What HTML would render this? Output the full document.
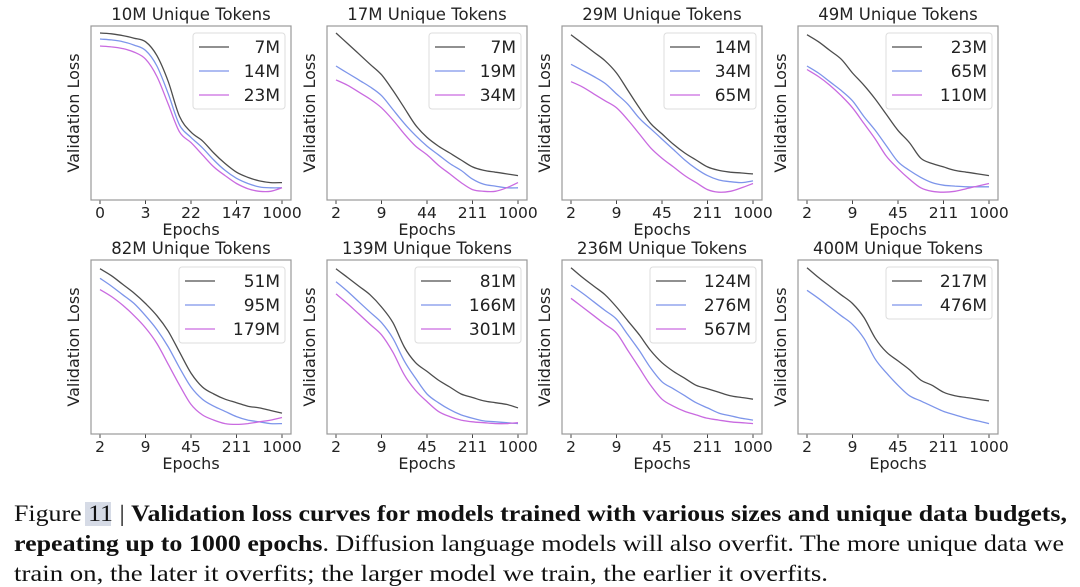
<!DOCTYPE html>
<html><head><meta charset="utf-8"><style>
html,body{margin:0;padding:0;background:#fff;}
svg{display:block;font-family:"DejaVu Sans","Liberation Sans",sans-serif;}
</style></head><body>
<svg id="fig" width="1080" height="587" viewBox="0 0 1080 587">
<g id="charts"></g>
<g font-family="'Liberation Serif',serif" font-size="23" fill="#111">
<rect x="85" y="502" width="26" height="24" fill="#d6dbe6"/>
<text x="14" y="521" textLength="1053" lengthAdjust="spacingAndGlyphs">Figure 11 | <tspan font-weight="bold">Validation loss curves for models trained with various sizes and unique data budgets,</tspan></text>
<text x="14" y="551" textLength="1050" lengthAdjust="spacingAndGlyphs"><tspan font-weight="bold">repeating up to 1000 epochs</tspan>. Diffusion language models will also overfit. The more unique data we</text>
<text x="14" y="581" textLength="814" lengthAdjust="spacingAndGlyphs">train on, the later it overfits; the larger model we train, the earlier it overfits.</text>
</g>
</svg>
<script>
// shared x positions (log-epoch steps 0..16)
const steps = [0,1,2,3,4,5,6,7,8,9,10,11,12,13,14,15,16];
const tickStepsA = [0,4,8,12,16];
const tickLabels1 = ["0","3","22","147","1000"];
const tickLabels2 = ["2","9","44","211","1000"];
const tickLabelsStd = ["2","9","45","211","1000"];
const titles = ["10M Unique Tokens","17M Unique Tokens","29M Unique Tokens","49M Unique Tokens","82M Unique Tokens","139M Unique Tokens","236M Unique Tokens","400M Unique Tokens"];
const legendLabels = [["7M","14M","23M"],["7M","19M","34M"],["14M","34M","65M"],["23M","65M","110M"],["51M","95M","179M"],["81M","166M","301M"],["124M","276M","567M"],["217M","476M"]];
// relative validation loss (0 = axis bottom, 100 = axis top)
const p1s1=[96,95.5,94.5,93,91,83,68,48,39,34,27,21,16,13,11,10,10];
const p1s2=[92.5,92,91,89,86,77,61,43,36,30,23,17,12.5,9.5,7.5,7,7];
const p1s3=[88.5,88,87,85,81,71,55,39,33,26,19,14,9.5,6.5,5,5,7];
const p2s1=[96,90,84,78,72,63,53,43,36,31,27,23,19,17,16,15,14];
const p2s2=[77,73,69,65,60,52,44,37,31,26,21,17,12,9,8,7,7];
const p2s3=[69,66,62,58,53,46,38,31,26,20,15,10,6,5,5,7,10];
const p3s1=[95,90,85,80,73,63,53,44,38,32,27,23,19,17,16,15.5,15];
const p3s2=[78,74.5,71,67,61,55,47,41,35,29,23,18,14,11.5,10.5,10,11];
const p3s3=[68,65,61,57,53,46,38,30,24,19,14,10,6,4.5,5,7,9.5];
const p4s1=[95,91,86,81,73,66,58,49,40,33,24,21,19,17,16,15,14];
const p4s2=[77,73,68,63,57,48,40,31,22,17,13,10,8.5,8,7.6,7.6,7.6];
const p4s3=[75,71,66,60,53,44,35,25,18,12,7,5,4.5,5,6.5,8,9.5];
const p5s1=[95,91,86,81,75,68,59,47,35,27,23,20,18,16,15,13.5,12];
const p5s2=[89.5,85,80,75,68,60,50,38,27,20,16,13,10,8,7,6,6];
const p5s3=[83,79,74,68,61,52,40,28,17,11,8,6,5.5,6,7,8,9.5];
const p6s1=[95,90,85,80,73,64,50,41,36,31,27,23,21,19,18,17,15];
const p6s2=[87.5,82,76,70,64,55,42,32,23,18,14,11,9,7.5,7,6.5,6];
const p6s3=[80.5,75,69,63,57,47,34,25,18.6,13,10,8,7,6.5,6,6,6.5];
const p7s1=[95.6,90,85,80,73,65,57,48,41,36,32,28,26,24,22,21,20];
const p7s2=[85.6,81,76,71,66,57,48,38,30,26,22,18,15,12,10.5,9,8];
const p7s3=[78,73,68,63,58,48,38,28,20,16,13,11,9,8,7,6.5,6];
const p8s1=[95.6,90,85,80,75,67,55,47,42,37,31,28,24,22,21,20,19];
const p8s2=[82.6,78,73,68,63,55,43,35,28,22,19,16,13,11,9,7.5,6];
const panelSeries=[[p1s1,p1s2,p1s3],[p2s1,p2s2,p2s3],[p3s1,p3s2,p3s3],[p4s1,p4s2,p4s3],[p5s1,p5s2,p5s3],[p6s1,p6s2,p6s3],[p7s1,p7s2,p7s3],[p8s1,p8s2]];
const panelTicks=[tickLabels1,tickLabels2,tickLabelsStd,tickLabelsStd,tickLabelsStd,tickLabelsStd,tickLabelsStd,tickLabelsStd];

const colors=["#4d4d4d","#7d95ea","#c96ae0"];
const NS="http://www.w3.org/2000/svg";
const root=document.getElementById("charts");
function mk(tag,attrs,parent){const e=document.createElementNS(NS,tag);for(const k in attrs)e.setAttribute(k,attrs[k]);parent.appendChild(e);return e;}
function smooth(pts){
  let d="M"+pts[0][0].toFixed(1)+","+pts[0][1].toFixed(1);
  for(let i=0;i<pts.length-1;i++){
    const p0=pts[Math.max(0,i-1)],p1=pts[i],p2=pts[i+1],p3=pts[Math.min(pts.length-1,i+2)];
    const c1x=p1[0]+(p2[0]-p0[0])/6,c1y=p1[1]+(p2[1]-p0[1])/6;
    const c2x=p2[0]-(p3[0]-p1[0])/6,c2y=p2[1]-(p3[1]-p1[1])/6;
    d+="C"+c1x.toFixed(1)+","+c1y.toFixed(1)+" "+c2x.toFixed(1)+","+c2y.toFixed(1)+" "+p2[0].toFixed(1)+","+p2[1].toFixed(1);
  }
  return d;
}
const lefts=[91,327,562,798], tops=[26,260], W=200, H=174;
for(let p=0;p<8;p++){
  const x0=lefts[p%4], y0=tops[Math.floor(p/4)];
  const g=mk("g",{},root);
  
  
  const xs=v=>x0+9+(v/16)*(W-18);
  const ys=v=>y0+H-(v/100)*H;
  const t=mk("text",{x:x0+W/2,y:y0-6,"text-anchor":"middle","font-size":"16.5",fill:"#222"},g);
  t.textContent=titles[p];
  
  
  const yl=mk("text",{transform:`translate(${x0-12},${y0+H/2}) rotate(-90)`,"text-anchor":"middle","font-size":"16",fill:"#222"},g);
  yl.textContent="Validation Loss";
  
  
  const xl=mk("text",{x:x0+W/2,y:y0+H+35,"text-anchor":"middle","font-size":"16",fill:"#222"},g);
  xl.textContent="Epochs";
  
  
  tickStepsA.forEach((s,i)=>{
    mk("line",{x1:xs(s),x2:xs(s),y1:y0+H,y2:y0+H+4,stroke:"#444","stroke-width":1},g);
    const tl=mk("text",{x:xs(s),y:y0+H+18,"text-anchor":"middle","font-size":"15.5",fill:"#222"},g);
    tl.textContent=panelTicks[p][i];
    
    
  });
  panelSeries[p].forEach((arr,si)=>{
    const pts=arr.map((v,i)=>[xs(steps[i]),ys(v)]);
    const path=mk("path",{d:smooth(pts),fill:"none",stroke:colors[si],"stroke-width":1.3,"stroke-linejoin":"round"},g);
    
    
  });
  const frame=mk("rect",{x:x0,y:y0,width:W,height:H,fill:"none",stroke:"#999","stroke-width":1.2},g);
  
  
  const labs=legendLabels[p];
  const lw=labs.some(l=>l.length>3)?106:92;
  const lh=labs.length*24+4;
  const lg=mk("g",{},g);
  
  
  mk("rect",{x:x0+W-6-lw,y:y0+7,width:lw,height:lh,rx:3,fill:"#fff",stroke:"#ddd","stroke-width":1},lg);
  labs.forEach((l,i)=>{
    const cy=y0+21+i*24;
    const e=mk("g",{},lg);
    
    
    mk("line",{x1:x0+W-6-lw+6,x2:x0+W-6-lw+36,y1:cy,y2:cy,stroke:colors[i],"stroke-width":1.3},e);
    const tx=mk("text",{x:x0+W-11,y:cy+6,"text-anchor":"end","font-size":"17",fill:"#222"},e);
    tx.textContent=l;
  });
}
</script>
</body></html>
